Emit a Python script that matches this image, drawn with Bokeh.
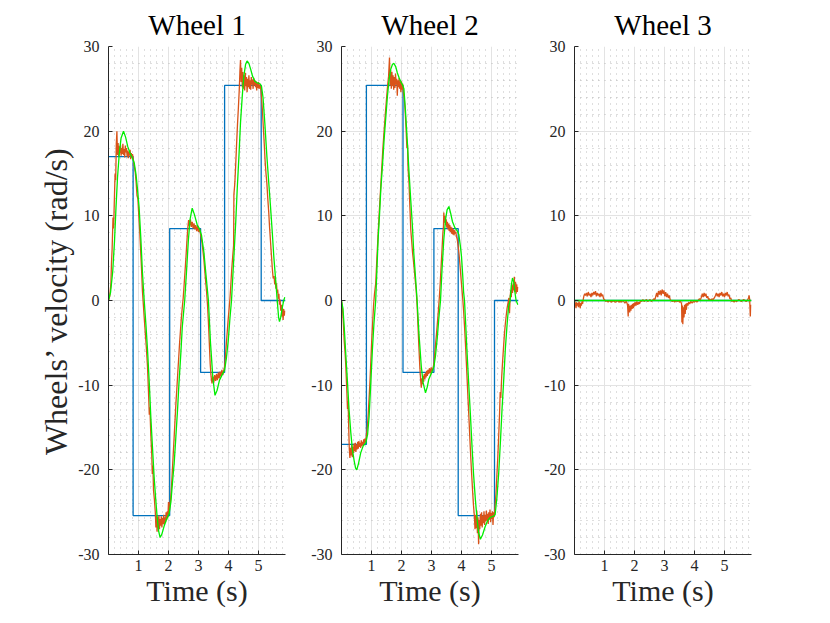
from bokeh.plotting import figure
from bokeh.layouts import row
from bokeh.models import Range1d, FixedTicker
from bokeh.embed import file_html
from bokeh.resources import INLINE

# ---------------- data ----------------
titles = ["Wheel 1", "Wheel 2", "Wheel 3"]
x_ticks = [1, 2, 3, 4, 5]
y_ticks = [-30, -20, -10, 0, 10, 20, 30]
y_tick_labels = ["-30", "-20", "-10", "0", "10", "20", "30"]

# reference (step) signals: switching times and levels
w1_ref_t = [0.0, 0.82, 2.04, 3.07, 3.87, 5.09, 5.9]
w1_ref_v = [17.0, -25.4, 8.5, -8.5, 25.4, 0.0, 0.0]
w2_ref_t = [0.0, 0.83, 2.05, 3.08, 3.89, 5.10, 5.9]
w2_ref_v = [-17.0, 25.4, -8.5, 8.5, -25.4, 0.0, 0.0]
w3_ref_t = [0.0, 5.9]
w3_ref_v = [0.0, 0.0]

# model response (green)
w1_model = [(0.00,0.0),(0.07,1.0),(0.14,3.4),(0.20,7.0),(0.25,11.0),(0.30,14.5),(0.36,17.4),(0.42,19.2),
            (0.50,20.0),(0.57,19.3),(0.64,18.2),(0.72,17.4),(0.80,16.8),(0.86,16.2),(0.92,14.8),(0.97,13.0),
            (1.02,11.0),(1.08,7.2),(1.13,3.4),(1.19,0.0),(1.25,-3.0),(1.30,-5.8),(1.36,-9.8),(1.41,-13.7),
            (1.47,-17.6),(1.52,-20.8),(1.57,-23.3),(1.62,-25.5),(1.67,-27.2),(1.72,-28.0),(1.78,-27.6),
            (1.85,-26.7),(1.93,-25.9),(2.02,-25.2),(2.08,-23.8),(2.13,-21.6),(2.19,-19.2),(2.24,-16.4),
            (2.30,-13.0),(2.35,-9.7),(2.41,-6.3),(2.46,-3.1),(2.54,0.0),(2.60,3.4),(2.66,7.0),(2.72,9.6),
            (2.79,10.9),(2.86,10.2),(2.96,8.9),(3.03,8.5),(3.10,7.7),(3.18,5.7),(3.25,3.0),(3.33,0.0),
            (3.40,-5.0),(3.48,-9.2),(3.55,-11.2),(3.62,-10.6),(3.70,-9.4),(3.80,-8.7),(3.87,-8.2),(3.93,-6.8),
            (3.99,-4.8),(4.05,-2.0),(4.10,0.0),(4.18,5.2),(4.24,9.2),(4.29,13.1),(4.35,17.2),(4.40,21.0),
            (4.46,24.2),(4.51,26.5),(4.57,27.9),(4.62,28.3),(4.68,28.0),(4.74,27.3),(4.80,26.5),(4.88,25.9),
            (4.96,25.7),(5.05,25.6),(5.10,25.3),(5.15,24.0),(5.21,21.0),(5.28,17.0),(5.34,14.0),(5.40,11.1),
            (5.46,8.0),(5.51,5.2),(5.57,2.5),(5.62,0.2),(5.67,-2.0),(5.70,-2.5),(5.74,-2.0),(5.80,-0.7),
            (5.84,0.0),(5.88,0.4)]
w2_model = [(0.00,0.0),(0.05,-1.0),(0.09,-3.1),(0.15,-6.8),(0.20,-9.7),(0.25,-12.8),(0.31,-15.6),(0.36,-17.5),
            (0.42,-18.9),(0.47,-19.8),(0.51,-20.0),(0.57,-19.2),(0.64,-18.0),(0.72,-17.2),(0.81,-16.8),
            (0.87,-15.8),(0.92,-13.7),(0.97,-10.2),(1.03,-5.8),(1.08,-2.8),(1.14,0.0),(1.22,7.2),(1.27,10.3),
            (1.31,13.1),(1.37,16.2),(1.42,19.0),(1.48,21.8),(1.53,24.1),(1.58,25.9),(1.64,27.3),(1.70,27.9),
            (1.75,28.0),(1.81,27.6),(1.86,26.9),(1.92,26.3),(1.97,25.9),(2.03,25.5),(2.08,25.0),(2.13,22.5),
            (2.19,19.0),(2.24,15.8),(2.30,12.3),(2.36,9.0),(2.41,5.6),(2.47,2.6),(2.52,0.0),(2.58,-3.8),
            (2.66,-7.8),(2.72,-9.7),(2.80,-10.9),(2.86,-10.2),(2.91,-9.3),(3.02,-8.4),(3.08,-7.8),(3.13,-6.6),
            (3.19,-4.5),(3.24,-2.3),(3.30,0.0),(3.35,3.6),(3.41,7.2),(3.47,9.6),(3.52,10.7),(3.58,11.1),
            (3.64,10.3),(3.70,9.3),(3.78,8.6),(3.86,8.2),(3.91,7.8),(3.96,6.5),(4.00,5.2),(4.04,3.0),
            (4.07,1.0),(4.10,0.0),(4.14,-2.8),(4.18,-5.8),(4.24,-9.8),(4.30,-13.7),(4.35,-17.2),(4.40,-20.4),
            (4.46,-23.4),(4.52,-25.9),(4.57,-27.4),(4.63,-28.2),(4.70,-27.7),(4.79,-26.7),(4.87,-26.0),
            (4.96,-25.6),(5.05,-25.5),(5.12,-25.3),(5.18,-23.3),(5.24,-20.4),(5.30,-16.5),(5.35,-12.9),
            (5.41,-9.2),(5.46,-5.8),(5.52,-2.8),(5.57,-0.7),(5.62,0.0),(5.66,1.8),(5.70,2.65),(5.74,2.2),
            (5.78,1.0),(5.82,0.0),(5.88,-0.5)]
w3_model = [(0.00,0.0),(5.90,0.0)]

# measured velocity (orange)
w1_meas = [(0.00,0.0),(0.04,0.5),(0.08,2.0),(0.10,4.5),(0.12,6.0),(0.15,9.8),(0.17,8.5),(0.20,12.5),
           (0.22,15.0),(0.24,14.2),(0.26,18.5),(0.28,20.0),(0.30,17.2),(0.32,18.6),(0.34,17.0),(0.36,18.2),
           (0.38,17.4),(0.40,18.4),(0.42,17.1),(0.44,18.0),(0.46,17.3),(0.48,18.5),(0.50,17.2),(0.52,17.9),
           (0.54,16.9),(0.56,18.3),(0.58,17.5),(0.60,18.0),(0.62,17.0),(0.64,17.7),(0.66,16.8),(0.68,17.6),
           (0.70,17.1),(0.72,17.8),(0.74,16.7),(0.76,17.4),(0.78,16.9),(0.80,17.3),(0.83,16.6),(0.86,15.8),
           (0.89,15.2),(0.92,14.0),(0.95,12.4),(0.98,12.0),(1.01,10.0),(1.04,8.2),(1.07,6.0),(1.10,3.8),
           (1.13,1.2),(1.16,-0.4),(1.19,-2.0),(1.22,-3.5),(1.26,-5.5),(1.30,-7.8),(1.33,-10.5),(1.36,-13.5),
           (1.38,-12.6),(1.41,-15.8),(1.44,-18.0),(1.46,-20.5),(1.48,-19.5),(1.50,-22.4),(1.53,-23.5),
           (1.56,-25.0),(1.58,-26.8),(1.60,-25.3),(1.62,-27.3),(1.64,-25.6),(1.66,-26.9),(1.68,-25.4),
           (1.70,-27.0),(1.72,-25.8),(1.74,-26.6),(1.76,-25.5),(1.78,-26.8),(1.80,-25.7),(1.82,-26.4),
           (1.84,-25.3),(1.86,-26.5),(1.88,-25.6),(1.90,-26.2),(1.92,-25.0),(1.94,-25.9),(1.96,-24.9),
           (1.98,-25.6),(2.00,-23.8),(2.02,-25.2),(2.04,-24.2),(2.07,-23.5),(2.10,-22.0),(2.13,-20.0),
           (2.16,-18.0),(2.19,-16.0),(2.22,-14.0),(2.25,-12.0),(2.28,-10.3),(2.31,-8.5),(2.34,-6.8),
           (2.37,-5.0),(2.40,-3.5),(2.43,-2.0),(2.46,-0.8),(2.49,0.3),(2.52,1.8),(2.55,3.4),(2.58,5.0),
           (2.61,6.8),(2.64,8.4),(2.67,9.5),(2.70,8.8),(2.73,9.6),(2.76,8.7),(2.79,9.3),(2.82,8.5),(2.85,9.1),
           (2.88,8.4),(2.91,8.9),(2.94,8.2),(2.97,8.8),(3.00,8.1),(3.03,8.5),(3.06,8.0),(3.09,7.4),(3.12,6.8),
           (3.15,5.8),(3.18,4.8),(3.21,3.5),(3.24,2.2),(3.27,1.0),(3.30,-0.5),(3.33,-2.5),(3.36,-5.0),
           (3.39,-7.5),(3.42,-9.0),(3.45,-9.8),(3.48,-9.0),(3.51,-9.7),(3.54,-8.8),(3.57,-9.5),(3.60,-8.7),
           (3.63,-9.4),(3.66,-8.5),(3.69,-9.2),(3.72,-8.4),(3.75,-9.0),(3.78,-8.2),(3.81,-8.8),(3.84,-8.3),
           (3.87,-7.8),(3.90,-6.5),(3.93,-5.0),(3.96,-3.6),(3.99,-2.2),(4.02,-1.0),(4.05,0.3),(4.08,2.0),
           (4.11,3.8),(4.14,5.2),(4.17,6.5),(4.18,12.5),(4.21,13.8),(4.24,16.0),(4.27,18.5),(4.30,20.8),
           (4.33,22.8),(4.36,25.0),(4.38,27.0),(4.40,28.4),(4.42,25.8),(4.44,27.5),(4.46,25.2),(4.48,27.0),
           (4.50,25.0),(4.52,26.6),(4.54,24.8),(4.56,26.9),(4.58,25.3),(4.60,26.4),(4.62,24.6),(4.64,26.2),
           (4.66,25.2),(4.68,26.6),(4.70,25.0),(4.72,26.0),(4.74,24.9),(4.76,26.4),(4.78,25.5),(4.80,26.1),
           (4.82,25.0),(4.84,26.3),(4.86,25.4),(4.88,26.0),(4.90,25.2),(4.92,25.9),(4.94,24.8),(4.96,25.7),
           (4.98,25.1),(5.00,25.8),(5.02,25.0),(5.04,25.5),(5.07,25.2),(5.10,24.0),(5.13,22.5),(5.16,20.5),
           (5.19,18.6),(5.22,16.5),(5.25,15.0),(5.28,13.8),(5.31,12.0),(5.34,10.5),(5.37,8.6),(5.40,7.0),
           (5.43,5.4),(5.46,3.8),(5.49,2.6),(5.52,2.9),(5.54,1.9),(5.56,2.6),(5.58,1.4),(5.60,2.0),(5.62,0.9),
           (5.64,1.3),(5.66,0.2),(5.68,0.8),(5.70,-0.5),(5.72,0.1),(5.74,-1.2),(5.76,-0.5),(5.78,-1.9),
           (5.80,-0.9),(5.82,-2.3),(5.84,-1.0),(5.86,-1.8),(5.88,-1.2)]
w2_meas = [(0.00,0.0),(0.03,-0.8),(0.06,-2.5),(0.09,-4.8),(0.12,-6.2),(0.14,-7.5),(0.17,-10.0),(0.20,-12.8),
           (0.22,-11.9),(0.24,-15.0),(0.26,-17.5),(0.28,-18.6),(0.30,-17.4),(0.32,-18.3),(0.34,-17.0),
           (0.36,-18.5),(0.38,-17.3),(0.40,-18.0),(0.42,-16.9),(0.44,-17.8),(0.46,-16.8),(0.48,-17.9),
           (0.50,-17.0),(0.52,-17.6),(0.54,-16.7),(0.56,-17.5),(0.58,-16.6),(0.60,-17.3),(0.62,-16.8),
           (0.64,-17.4),(0.66,-16.5),(0.68,-17.2),(0.70,-16.7),(0.72,-17.1),(0.74,-16.4),(0.76,-16.9),
           (0.78,-16.3),(0.80,-16.7),(0.83,-16.0),(0.86,-15.0),(0.89,-13.5),(0.92,-11.5),(0.95,-9.5),
           (0.98,-7.0),(1.01,-4.5),(1.04,-2.5),(1.07,-0.5),(1.10,0.8),(1.14,2.0),(1.18,5.0),(1.22,7.8),
           (1.26,10.5),(1.30,13.0),(1.34,15.5),(1.38,18.0),(1.42,20.0),(1.46,22.0),(1.50,23.8),(1.54,25.5),
           (1.57,26.5),(1.60,28.7),(1.62,25.4),(1.64,27.2),(1.66,25.0),(1.68,27.0),(1.70,25.3),(1.72,26.6),
           (1.74,24.9),(1.76,26.4),(1.78,25.1),(1.80,26.8),(1.82,25.5),(1.84,26.2),(1.86,24.2),(1.88,26.0),
           (1.90,25.2),(1.92,26.3),(1.94,25.0),(1.96,25.8),(1.98,24.6),(2.00,25.9),(2.02,24.9),(2.04,25.6),
           (2.06,24.6),(2.09,24.0),(2.12,22.5),(2.15,20.5),(2.18,18.0),(2.20,18.4),(2.22,15.5),(2.25,13.9),
           (2.28,11.0),(2.31,8.3),(2.34,7.0),(2.37,5.6),(2.40,4.6),(2.43,3.5),(2.46,2.3),(2.49,1.2),
           (2.52,-0.5),(2.55,-3.0),(2.58,-5.5),(2.61,-7.8),(2.64,-9.5),(2.66,-10.3),(2.68,-9.2),(2.70,-9.9),
           (2.72,-8.9),(2.74,-9.6),(2.76,-8.7),(2.78,-9.3),(2.80,-8.5),(2.82,-9.1),(2.84,-8.3),(2.86,-8.9),
           (2.88,-8.2),(2.90,-8.7),(2.93,-8.0),(2.96,-8.6),(2.99,-7.9),(3.02,-8.4),(3.05,-8.0),(3.08,-7.5),
           (3.11,-6.2),(3.14,-5.0),(3.17,-3.8),(3.20,-2.5),(3.23,-1.2),(3.26,0.3),(3.29,2.0),(3.32,4.0),
           (3.35,6.0),(3.38,8.0),(3.40,8.8),(3.41,10.4),(3.43,9.2),(3.45,10.0),(3.47,8.9),(3.49,9.6),
           (3.51,8.6),(3.53,9.3),(3.55,8.4),(3.57,9.1),(3.59,8.2),(3.61,8.9),(3.63,8.1),(3.65,8.7),(3.67,7.9),
           (3.69,8.6),(3.71,7.8),(3.73,8.4),(3.75,7.7),(3.77,8.3),(3.79,7.9),(3.81,8.1),(3.83,7.6),(3.86,7.2),
           (3.89,6.4),(3.92,5.4),(3.95,4.2),(3.98,2.8),(4.01,1.5),(4.04,0.3),(4.07,-1.2),(4.10,-3.0),
           (4.13,-5.0),(4.16,-7.2),(4.19,-9.5),(4.22,-11.8),(4.25,-14.0),(4.28,-16.4),(4.31,-18.6),
           (4.34,-20.6),(4.37,-22.5),(4.40,-24.2),(4.43,-25.5),(4.45,-27.0),(4.47,-25.3),(4.49,-26.9),
           (4.51,-24.8),(4.53,-27.5),(4.55,-25.6),(4.57,-28.8),(4.59,-25.9),(4.61,-27.0),(4.63,-25.2),
           (4.65,-26.6),(4.67,-25.0),(4.69,-26.8),(4.71,-25.4),(4.73,-26.3),(4.75,-24.9),(4.77,-26.5),
           (4.79,-25.3),(4.81,-26.1),(4.83,-24.8),(4.85,-26.0),(4.87,-25.2),(4.89,-26.4),(4.91,-25.0),
           (4.93,-25.9),(4.95,-24.7),(4.97,-26.2),(4.99,-25.1),(5.01,-25.8),(5.03,-24.9),(5.05,-26.5),
           (5.07,-25.0),(5.09,-25.6),(5.12,-24.2),(5.15,-22.8),(5.18,-20.6),(5.21,-18.5),(5.24,-16.0),
           (5.27,-13.2),(5.29,-10.8),(5.31,-11.5),(5.34,-9.0),(5.37,-7.2),(5.40,-5.6),(5.43,-4.0),
           (5.46,-2.8),(5.49,-1.8),(5.52,-0.9),(5.55,-0.3),(5.58,0.3),(5.60,-1.5),(5.62,0.2),(5.64,1.2),
           (5.66,0.4),(5.68,1.8),(5.70,0.9),(5.72,2.0),(5.74,1.2),(5.76,2.8),(5.78,1.0),(5.80,2.2),(5.82,0.8),
           (5.84,1.9),(5.86,1.0),(5.88,1.6)]
w3_meas = [(0.00,0.0),(0.03,-0.4),(0.05,-0.9),(0.07,-0.2),(0.09,-0.6),(0.11,-0.3),(0.13,-0.8),(0.15,-0.1),
           (0.17,-0.5),(0.19,-0.9),(0.21,-0.3),(0.23,-0.6),(0.25,-0.1),(0.27,-0.4),(0.29,0.1),(0.31,0.5),
           (0.34,0.8),(0.37,0.6),(0.40,0.9),(0.43,0.5),(0.46,1.0),(0.49,0.6),(0.52,0.8),(0.55,0.4),(0.58,0.9),
           (0.61,0.6),(0.64,1.0),(0.67,0.7),(0.70,1.1),(0.73,0.5),(0.76,0.9),(0.79,0.6),(0.82,0.8),(0.85,0.4),
           (0.88,0.9),(0.91,0.5),(0.94,0.7),(0.97,0.2),(1.00,0.1),(1.04,-0.1),(1.08,0.0),(1.12,-0.2),
           (1.16,0.0),(1.20,-0.1),(1.24,-0.2),(1.28,0.0),(1.32,-0.1),(1.36,-0.2),(1.40,-0.1),(1.44,0.0),
           (1.48,-0.2),(1.52,-0.1),(1.56,-0.2),(1.60,0.0),(1.64,-0.1),(1.68,-0.3),(1.72,-0.1),(1.75,-0.3),
           (1.77,-0.6),(1.79,-1.9),(1.80,-0.4),(1.82,-0.8),(1.84,-1.4),(1.86,-0.6),(1.88,-1.2),(1.90,-0.5),
           (1.92,-1.0),(1.94,-0.4),(1.96,-0.9),(1.98,-0.3),(2.00,-0.7),(2.02,-0.2),(2.05,-0.6),(2.08,-0.1),
           (2.11,-0.5),(2.14,-0.2),(2.17,-0.4),(2.20,0.0),(2.24,-0.1),(2.28,0.1),(2.32,-0.1),(2.36,0.0),
           (2.40,0.1),(2.44,-0.1),(2.48,0.0),(2.52,0.1),(2.56,-0.1),(2.60,0.0),(2.64,0.2),(2.68,0.1),
           (2.71,0.5),(2.74,0.9),(2.77,0.4),(2.80,1.1),(2.83,0.7),(2.86,1.2),(2.89,0.6),(2.92,1.3),(2.95,0.8),
           (2.98,1.2),(3.01,0.5),(3.04,1.0),(3.07,0.4),(3.10,0.8),(3.13,0.3),(3.16,0.6),(3.19,0.1),(3.22,0.0),
           (3.26,-0.1),(3.30,0.0),(3.34,-0.2),(3.38,0.0),(3.42,-0.1),(3.46,0.0),(3.50,-0.2),(3.54,-0.1),
           (3.57,-0.4),(3.58,-2.6),(3.60,-0.6),(3.61,-2.8),(3.63,-0.8),(3.65,-2.0),(3.67,-0.5),(3.69,-1.6),
           (3.71,-0.4),(3.73,-1.1),(3.75,-0.3),(3.78,-0.6),(3.81,-0.2),(3.84,-0.4),(3.88,-0.1),(3.92,-0.3),
           (3.96,-0.1),(4.00,-0.2),(4.04,0.0),(4.08,-0.2),(4.12,0.0),(4.16,0.2),(4.20,0.1),(4.23,0.4),
           (4.26,0.8),(4.29,0.4),(4.32,0.9),(4.35,0.5),(4.38,0.8),(4.41,0.3),(4.44,0.5),(4.47,0.1),(4.50,0.2),
           (4.54,0.0),(4.58,0.2),(4.62,0.1),(4.66,0.3),(4.70,0.6),(4.73,0.9),(4.76,0.5),(4.79,0.8),(4.82,0.4),
           (4.85,0.9),(4.88,0.6),(4.91,1.0),(4.94,0.5),(4.97,0.8),(5.00,0.4),(5.03,0.9),(5.06,0.6),(5.09,1.0),
           (5.12,0.5),(5.15,0.7),(5.18,0.2),(5.21,0.3),(5.24,-0.1),(5.28,0.0),(5.32,-0.2),(5.36,0.0),
           (5.40,-0.1),(5.44,0.0),(5.48,0.1),(5.52,0.0),(5.56,-0.1),(5.60,0.0),(5.64,0.1),(5.68,0.0),
           (5.72,-0.1),(5.76,0.0),(5.80,0.3),(5.82,0.6),(5.84,0.1),(5.86,-1.9),(5.88,-0.5)]

refs = [(w1_ref_t, w1_ref_v), (w2_ref_t, w2_ref_v), (w3_ref_t, w3_ref_v)]
models = [w1_model, w2_model, w3_model]
meas = [w1_meas, w2_meas, w3_meas]

# ---------------- styling ----------------
FONT = "Liberation Serif"
BLUE = "#0072BD"
ORANGE = "#D95319"
GREEN = "#00EE00"
AXC = "#262626"

x_minor = [i / 5 for i in range(0, 30) if i % 5 != 0]
y_minor = [v for v in range(-30, 31, 2) if v % 10 != 0]

borders = [(108, 16), (40, 16), (40, 40)]

figs = []
for k in range(3):
    left, right = borders[k]
    p = figure(frame_width=177, frame_height=508,
               min_border_left=left, min_border_right=right,
               min_border_top=46, min_border_bottom=60,
               x_range=Range1d(0, 5.9), y_range=Range1d(-30, 30),
               output_backend="svg", toolbar_location=None, title=titles[k])
    p.outline_line_color = None
    p.background_fill_color = "white"
    p.border_fill_color = "white"

    p.title.align = "center"
    p.title.text_font = FONT
    p.title.text_font_size = "29px"
    p.title.text_font_style = "normal"
    p.title.text_color = "black"
    p.title.standoff = 11

    p.xaxis.ticker = FixedTicker(ticks=x_ticks, minor_ticks=x_minor)
    p.yaxis.ticker = FixedTicker(ticks=y_ticks, minor_ticks=y_minor)
    p.yaxis.major_label_overrides = {t: s for t, s in zip(y_ticks, y_tick_labels)}

    for ax in (p.xaxis[0], p.yaxis[0]):
        ax.axis_line_color = AXC
        ax.axis_line_width = 1
        ax.major_tick_line_color = AXC
        ax.major_tick_in = 4
        ax.major_tick_out = 0
        ax.minor_tick_line_color = None
        ax.major_label_text_font = FONT
        ax.major_label_text_font_size = "16px"
        ax.major_label_text_color = AXC
        ax.axis_label_text_font = FONT
        ax.axis_label_text_font_style = "normal"
        ax.axis_label_text_color = AXC
    p.xaxis.major_label_standoff = 1
    p.yaxis.major_label_standoff = 5
    p.xaxis.axis_label = "Time (s)"
    p.xaxis.axis_label_text_font_size = "30px"
    p.xaxis.axis_label_standoff = 0
    if k == 0:
        p.yaxis.axis_label = "Wheels\u2019 velocity (rad/s)"
        p.yaxis.axis_label_text_font_size = "32px"
        p.yaxis.axis_label_standoff = 1

    for g in (p.xgrid[0], p.ygrid[0]):
        g.grid_line_color = "#e3e3e3"
        g.grid_line_width = 1
        g.minor_grid_line_color = "#bdbdbd"
        g.minor_grid_line_width = 1
        g.minor_grid_line_dash = "1 5"

    rt, rv = refs[k]
    p.step(rt, rv, mode="after", line_color=BLUE, line_width=1.3)
    mt = [a for a, b in meas[k]]
    mv = [b for a, b in meas[k]]
    p.line(mt, mv, line_color=ORANGE, line_width=1.3)
    gt = [a for a, b in models[k]]
    gv = [b for a, b in models[k]]
    p.line(gt, gv, line_color=GREEN, line_width=1.3)
    figs.append(p)

layout = row(*figs)
open("out.html", "w").write(file_html(layout, INLINE))
